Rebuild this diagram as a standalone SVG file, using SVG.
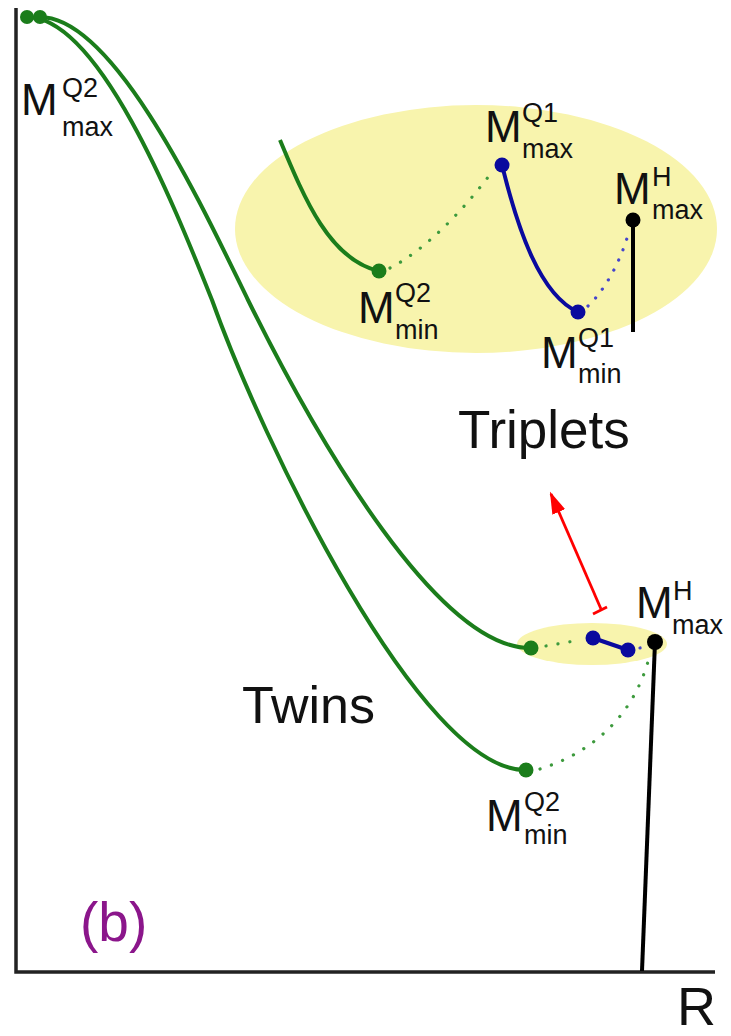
<svg xmlns="http://www.w3.org/2000/svg" width="731" height="1036" viewBox="0 0 731 1036">
<style>
text{font-family:"Liberation Sans",Arial,sans-serif;fill:#111}
.M{font-size:44px}
.s{font-size:27px}
.big{font-size:52px}
.axis{stroke:#222;stroke-width:3.5;fill:none}
.g{stroke:#1b7d1b;stroke-width:4;fill:none}
.b{stroke:#0a0a9e;stroke-width:4;fill:none}
.k{stroke:#000;stroke-width:4;fill:none}
.gd{stroke:#3d9a3d;stroke-width:3.2;fill:none;stroke-dasharray:0.1 12;stroke-linecap:round}
.bd{stroke:#4545cc;stroke-width:3.2;fill:none;stroke-dasharray:0.1 11;stroke-linecap:round}
.gdot{fill:#1b7d1b}
.bdot{fill:#0a0a9e}
.kdot{fill:#000}
</style>
<defs>
<marker id="ah" viewBox="0 0 16 10" refX="14" refY="5" markerWidth="8" markerHeight="5" markerUnits="strokeWidth" orient="auto">
<path d="M0,0 L16,5 L0,10 z" fill="#ff0000"/>
</marker>
</defs>
<rect width="731" height="1036" fill="#ffffff"/>

<g id="axes">
<path class="axis" d="M16,8 L16,972 L715,972"/>
<text x="677" y="1025" style="font-size:54px">R</text>
</g>

<g id="triplets-ellipse">
<ellipse cx="476" cy="229" rx="241" ry="124" fill="#f8f4ad"/>
</g>
<g id="twins-ellipse">
<ellipse cx="592" cy="644" rx="75" ry="21" fill="#f8f4ad"/>
</g>

<g id="curves">
<path class="g" d="M40,17 C115,17 204,210 248,300 C322,450 440,648 530,648"/>
<path class="g" d="M27,17 C100,17 176,210 212,300 C262,440 420,770 525,770"/>
<circle class="gdot" cx="27" cy="17" r="7"/>
<circle class="gdot" cx="40" cy="17" r="7"/>
</g>

<g id="triplets-detail">
<path class="g" d="M280,140 C305,200 330,260 379,271"/>
<circle class="gdot" cx="379" cy="271" r="7.5"/>
<path class="b" d="M502,165 C518,230 540,295 578,312"/>
<circle class="bdot" cx="502" cy="165" r="7.5"/>
<circle class="bdot" cx="578" cy="312" r="7.5"/>
<path class="k" d="M633,220 L633,332"/>
<circle class="kdot" cx="633" cy="220" r="7.5"/>
</g>

<g id="twins-detail">
<circle class="gdot" cx="531" cy="648" r="7.5"/>
<path class="b" d="M593,638 L628,650"/>
<circle class="bdot" cx="593" cy="638" r="7.5"/>
<circle class="bdot" cx="628" cy="650" r="7.5"/>
<path class="k" d="M655,642 L642,971"/>
<circle class="kdot" cx="655" cy="642" r="8"/>
<circle class="gdot" cx="526" cy="770" r="7.5"/>
</g>

<g id="connectors">
<path class="gd" d="M390,268 C425,250 462,212 492,172"/>
<path class="bd" d="M588,306 C605,290 620,262 628,235"/>
<path class="gd" d="M546,646 L580,640"/>
<path class="bd" d="M640,648 L646,647"/>
<path class="gd" d="M540,769 C585,755 632,722 649,658"/>
<g id="red-arrow">
<path d="M601,609 L551,494" stroke="#ff0000" stroke-width="2.8" fill="none" marker-end="url(#ah)"/>
<path d="M593,614 L607,607" stroke="#ff0000" stroke-width="2.8" fill="none"/>
</g>
</g>

<g id="labels">
<text><tspan class="M" x="21" y="115">M</tspan><tspan class="s" x="62" y="97">Q2</tspan><tspan class="s" x="62" y="136">max</tspan></text>
<text><tspan class="M" x="485" y="142">M</tspan><tspan class="s" x="522" y="122">Q1</tspan><tspan class="s" x="522" y="158">max</tspan></text>
<text><tspan class="M" x="614" y="204">M</tspan><tspan class="s" x="652" y="186">H</tspan><tspan class="s" x="652" y="219">max</tspan></text>
<text><tspan class="M" x="358" y="323">M</tspan><tspan class="s" x="395" y="302">Q2</tspan><tspan class="s" x="395" y="339">min</tspan></text>
<text><tspan class="M" x="541" y="368">M</tspan><tspan class="s" x="578" y="347">Q1</tspan><tspan class="s" x="578" y="383">min</tspan></text>
<text><tspan class="M" x="636" y="618">M</tspan><tspan class="s" x="673" y="600">H</tspan><tspan class="s" x="672" y="634">max</tspan></text>
<text><tspan class="M" x="486" y="831">M</tspan><tspan class="s" x="524" y="811">Q2</tspan><tspan class="s" x="524" y="844">min</tspan></text>
<text class="big" x="458" y="448" style="font-size:53px">Triplets</text>
<text class="big" x="242" y="723">Twins</text>
<text x="80" y="941" style="font-size:55px;fill:#8b168b">(b)</text>
</g>
</svg>
